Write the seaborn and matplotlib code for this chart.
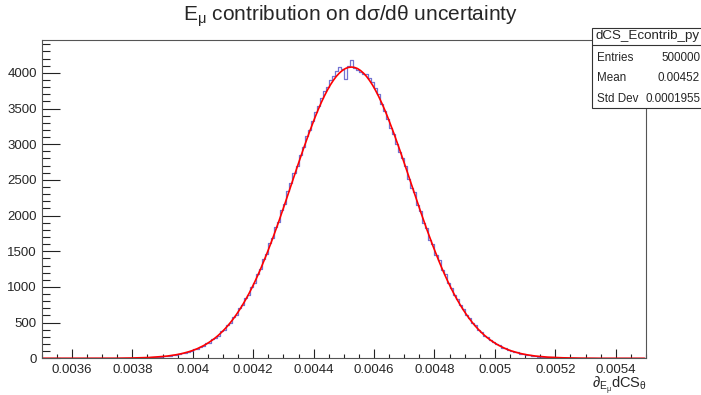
import numpy as np
import pandas as pd
import matplotlib
matplotlib.use("Agg")
import matplotlib.pyplot as plt
import seaborn as sns
from matplotlib.patches import Rectangle
from matplotlib.lines import Line2D
from matplotlib.ticker import MultipleLocator, FixedLocator

# ---------------- data ----------------
x_min, x_max, n_bins = 0.0035, 0.0055, 200

hist_counts = (
    [0] * 23 +
    [0, 1, 2, 1, 3, 4, 3, 6, 5, 8, 7, 11, 10, 15, 14, 21, 22, 29, 30, 39,
     41, 53, 56, 72, 74, 95, 99, 126, 131, 162, 170, 212, 220, 270, 281, 318, 380, 398, 470, 496,
     572, 610, 700, 742, 840, 890, 1005, 1060, 1185, 1250, 1390, 1455, 1610, 1680, 1835, 1915, 2080, 2160, 2340, 2450,
     2590, 2700, 2850, 2960, 3110, 3200, 3330, 3450, 3540, 3650, 3740, 3800, 3900, 3960, 4020, 4080, 4060, 3920, 4090] +
    [4180] +
    [4070, 4040, 4010, 3980, 3990, 3930, 3870, 3790, 3700, 3560, 3460, 3350, 3230, 3140, 3000, 2890, 2810, 2700, 2510, 2390,
     2330, 2150, 2070, 1900, 1830, 1660, 1600, 1450, 1380, 1240, 1180, 1060, 990, 880, 835, 745, 690, 610, 570, 500,
     460, 400, 370, 318, 295, 250, 232, 198, 182, 150, 140, 115, 108, 86, 82, 64, 61, 48, 45, 35,
     33, 25, 24, 18, 17, 12, 12, 9, 8, 6, 6, 4, 4, 3, 2, 2, 1, 1, 0] +
    [0] * 18
)

fit_right = [4076, 4060, 4033, 3996, 3950, 3893, 3828, 3753, 3671, 3581, 3484, 3380, 3271, 3158, 3041, 2920,
             2797, 2672, 2546, 2420, 2294, 2167, 2043, 1921, 1802, 1686, 1573, 1464, 1359, 1257, 1161, 1069,
             982, 899, 822, 749, 681, 617, 558, 503, 452, 406, 363, 324, 288, 256, 227, 200, 176, 155,
             135, 118, 103, 90, 78, 67, 58, 50, 43, 37, 31, 27, 23, 19, 16, 14, 11, 10, 8, 7,
             6, 5, 4, 3, 3, 2, 2, 1, 1, 1]
fit_values = [0] * 22 + fit_right[::-1] + [4081] + fit_right + [0] * 17

x_major = [0.0036, 0.0038, 0.0040, 0.0042, 0.0044, 0.0046, 0.0048, 0.0050, 0.0052, 0.0054]
x_labels = ["0.0036", "0.0038", "0.004", "0.0042", "0.0044", "0.0046", "0.0048", "0.005", "0.0052", "0.0054"]
y_major = [0, 500, 1000, 1500, 2000, 2500, 3000, 3500, 4000]
y_top = 4460

stats_name = "dCS_Econtrib_py"
stats_rows = [("Entries", "500000"), ("Mean", "0.00452"), ("Std Dev", "0.0001955")]

# ---------------- style ----------------
sns.set_theme(style="white")
plt.rcParams["font.family"] = ["Liberation Sans", "DejaVu Sans"]
plt.rcParams["mathtext.fontset"] = "custom"
plt.rcParams["mathtext.rm"] = "Liberation Sans"
plt.rcParams["mathtext.it"] = "Liberation Sans:italic"
plt.rcParams["mathtext.bf"] = "Liberation Sans:bold"

W, H = 701, 395
fig = plt.figure(figsize=(W / 100, H / 100), dpi=100)
ax = fig.add_axes([41.7 / W, 1 - 358.3 / H, (646 - 41.7) / W, (358.3 - 40) / H])

edges = np.linspace(x_min, x_max, n_bins + 1)
centers = 0.5 * (edges[:-1] + edges[1:])
df = pd.DataFrame({"x": centers, "count": hist_counts, "fit": fit_values})

sns.histplot(data=df, x="x", weights="count", bins=list(edges), element="step", fill=False,
             color="#5050c8", linewidth=0.9, alpha=0.8, ax=ax)
sns.lineplot(data=df, x="x", y="fit", color="#ff0000", linewidth=1.2, ax=ax)

ax.set_xlim(x_min, x_max)
ax.set_ylim(0, y_top)
ax.set_xlabel("")
ax.set_ylabel("")

ax.xaxis.set_major_locator(FixedLocator(x_major))
ax.set_xticklabels(x_labels)
ax.xaxis.set_minor_locator(MultipleLocator(0.00005))
ax.yaxis.set_major_locator(FixedLocator(y_major))
ax.yaxis.set_minor_locator(MultipleLocator(100))

ax.tick_params(axis="x", which="major", direction="in", length=6.5, width=0.8, color="#222222",
               labelsize=9.5, pad=4, bottom=True, top=False)
ax.tick_params(axis="x", which="minor", direction="in", length=3.2, width=0.8, color="#222222",
               bottom=True, top=False)
ax.tick_params(axis="y", which="major", direction="in", length=13, width=0.8, color="#222222",
               labelsize=9.5, pad=3.5, left=True, right=False)
ax.tick_params(axis="y", which="minor", direction="in", length=5.8, width=0.8, color="#222222",
               left=True, right=False)
for s in ax.spines.values():
    s.set_color("#555555")
    s.set_linewidth(0.8)

# title
fig.text(350 / W, 1 - 16 / H, r"E$_{\mathrm{\mu}}$ contribution on dσ/dθ uncertainty",
         ha="center", va="center", fontsize=15)

# x-axis label
fig.text(647 / W, 1 - 388 / H, r"$\partial_{\mathrm{E}_{\mathrm{\mu}}}$dCS$_{\mathrm{\theta}}$",
         ha="right", va="baseline", fontsize=10.5)

# stats box
bx0, by_top, by_bot = 592, 27.5, 108
fig.add_artist(Rectangle((bx0 / W, 1 - by_bot / H), (W - bx0 + 5) / W, (by_bot - by_top) / H,
                         transform=fig.transFigure, facecolor="white", edgecolor="#333333",
                         linewidth=0.8, clip_on=False, zorder=5))
fig.add_artist(Line2D([bx0 / W, 1.0], [1 - 45.3 / H, 1 - 45.3 / H], transform=fig.transFigure,
                      color="#333333", linewidth=0.8, zorder=6))
fig.text(596 / W, 1 - 36.5 / H, stats_name, ha="left", va="center", fontsize=9.6, zorder=7)
for i, (lab, val) in enumerate(stats_rows):
    yy = 1 - (58 + 20.3 * i) / H
    fig.text(597 / W, yy, lab, ha="left", va="center", fontsize=8.4, zorder=7)
    fig.text(700 / W, yy, val, ha="right", va="center", fontsize=8.4, zorder=7)

fig.savefig("out.png", dpi=100)
